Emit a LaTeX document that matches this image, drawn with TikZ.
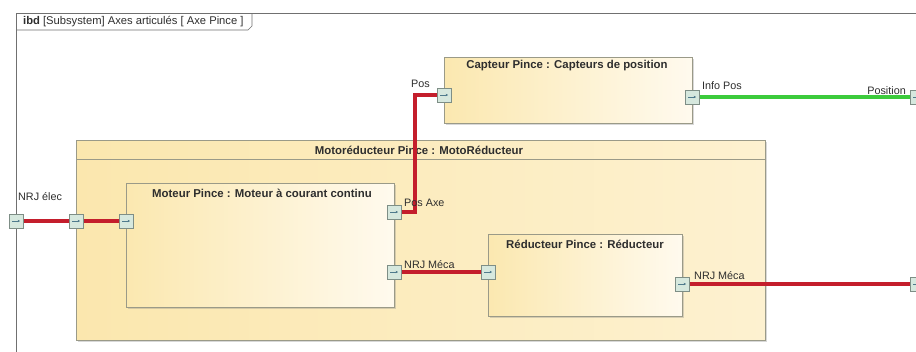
\documentclass[tikz,border=0pt]{standalone}
\usepackage{fontspec}
\setmainfont{Liberation Sans}
\usetikzlibrary{shadows,arrows.meta,calc}
\definecolor{boxborder}{HTML}{9A9A88}
\definecolor{boxA}{HTML}{FBE8B0}
\definecolor{boxB}{HTML}{FFFAEE}
\definecolor{outerA}{HTML}{FBE7AE}
\definecolor{outerB}{HTML}{FDF1D0}
\definecolor{portfill}{HTML}{D6E8DE}
\definecolor{portborder}{HTML}{7E8E86}
\definecolor{portarrow}{HTML}{4F7A8C}
\definecolor{wirered}{HTML}{C41E2C}
\definecolor{wiregreen}{HTML}{3CCB3C}
\definecolor{txt}{HTML}{2E2E2E}
\definecolor{framecol}{HTML}{707070}
\pgfdeclarelayer{fg}
\pgfsetlayers{main,fg}
\tikzset{
  blockbox/.style={draw=boxborder, line width=0.8pt, left color=boxA, right color=boxB,
    drop shadow={shadow xshift=1.5pt, shadow yshift=-1.5pt, opacity=0.3},
    anchor=north west, inner sep=0pt},
  outerbox/.style={blockbox, left color=outerA, right color=outerB},
  blocktitle/.style={font=\bfseries\fontsize{11.4}{13}\selectfont, text=txt, inner sep=1pt},
  lbl/.style={font=\fontsize{10.8}{12}\selectfont, text=txt, inner sep=1pt},
  portbox/.style={draw=portborder, line width=0.6pt, fill=portfill, minimum size=14pt, inner sep=0pt,
    path picture={\draw[portarrow, line width=0.6pt, -{Stealth[length=2.4pt,width=2.4pt]}]
      ([xshift=-4pt]path picture bounding box.center) -- ([xshift=4pt]path picture bounding box.center);}},
  redwire/.style={draw=wirered, line width=3.3pt},
  greenwire/.style={draw=wiregreen, line width=3.3pt},
}
\begin{document}
\begin{tikzpicture}[x=1pt, y=-1pt]
\useasboundingbox (0,0) rectangle (916,351);
\fill[white] (0,0) rectangle (916,351);
% frame
\draw[framecol, line width=0.7pt] (16,360) -- (16,13) -- (920,13);
\draw[framecol, line width=0.7pt] (16,30) -- (248,30) -- (252,26) -- (252,13);
\node[lbl, anchor=west, font=\fontsize{11.2}{12}\selectfont] (tab) at (22,21.5) {\textbf{ibd} [Subsystem] Axes articulés [ Axe Pince ]};

% blocks
\node[outerbox, minimum width=689pt, minimum height=200pt] (moto) at (76,140) {};
\draw[boxborder, line width=0.8pt] (76,159) -- (765,159);
\node[blocktitle] (mototitle) at (419,150) {Motoréducteur Pince : MotoRéducteur};

\node[blockbox, minimum width=268pt, minimum height=124pt] (moteur) at (126,183) {};
\node[blocktitle] (moteurtitle) at (262,193) {Moteur Pince : Moteur à courant continu};

\node[blockbox, minimum width=194pt, minimum height=82pt] (reduc) at (488,234) {};
\node[blocktitle] (reductitle) at (585,244) {Réducteur Pince : Réducteur};

\node[blockbox, minimum width=248pt, minimum height=66pt] (capteur) at (444,57) {};
\node[blocktitle] (capteurtitle) at (567,66) {Capteur Pince : Capteurs de position};

% ports
\begin{pgfonlayer}{fg}
\node[portbox] (pnrjframe) at (16,221) {};
\node[portbox] (pnrjmoto) at (76,221) {};
\node[portbox] (pnrjmot) at (126,221) {};
\node[portbox] (pposaxe) at (394,212) {};
\node[portbox] (pmecamot) at (394,272) {};
\node[portbox] (predin) at (488,272) {};
\node[portbox] (predout) at (682,284) {};
\node[portbox] (pmecaframe) at (917,284) {};
\node[portbox] (ppos) at (444,95) {};
\node[portbox] (pinfopos) at (692,97) {};
\node[portbox] (pposframe) at (917,97) {};
\end{pgfonlayer}

% wires
\coordinate (bend) at (415,0);
\draw[redwire] (pnrjframe.center) -- (pnrjmoto.center) -- (pnrjmot.center);
\draw[redwire] (pposaxe.center) -- (pposaxe.center -| bend) |- (ppos.center);
\draw[redwire] (pmecamot.center) -- (predin.center);
\draw[redwire] (predout.center) -- (pmecaframe.center);
\draw[greenwire] (pinfopos.center) -- (pposframe.center);

% labels
\node[lbl, anchor=east] (lpos) at (431,84) {Pos};
\node[lbl, anchor=west] (linfo) at (701,86) {Info Pos};
\node[lbl, anchor=east] (lposition) at (907,91) {Position};
\node[lbl, anchor=west] (lnrj) at (17,197) {NRJ élec};
\node[lbl, anchor=west] (lposaxe) at (403,203) {Pos Axe};
\node[lbl, anchor=west] (lmeca1) at (403,265) {NRJ Méca};
\node[lbl, anchor=west] (lmeca2) at (693,276) {NRJ Méca};
\end{tikzpicture}
\end{document}
